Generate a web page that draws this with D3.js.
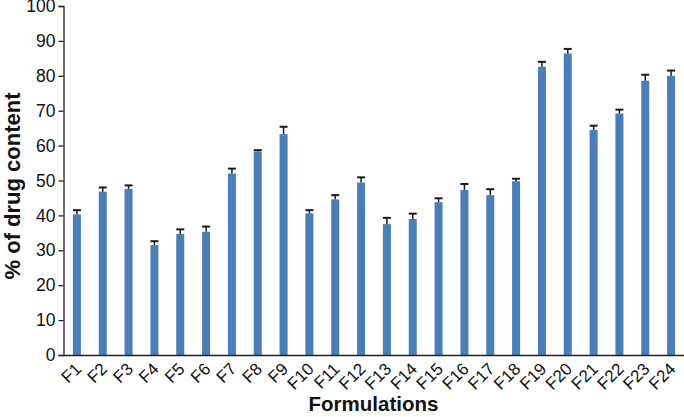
<!DOCTYPE html>
<html><head><meta charset="utf-8">
<script src="https://cdn.jsdelivr.net/npm/d3@7"></script>
<style>body{margin:0;background:#fff}svg{display:block}</style>
</head><body>
<script>
const categories = ["F1","F2","F3","F4","F5","F6","F7","F8","F9","F10","F11","F12","F13","F14","F15","F16","F17","F18","F19","F20","F21","F22","F23","F24"];
const values = [40.3,46.8,47.6,31.5,34.7,35.3,52.0,58.3,63.3,40.6,44.6,49.4,37.5,39.0,43.8,47.3,45.8,49.8,82.6,86.4,64.5,69.2,78.6,80.0];
const errors = [1.2,1.2,1.0,1.1,1.3,1.5,1.4,0.4,2.1,0.9,1.2,1.5,1.8,1.5,1.1,1.7,1.7,0.7,1.4,1.3,1.2,1.1,1.7,1.5];
const yTicks = [0,10,20,30,40,50,60,70,80,90,100];

const W = 684, H = 417;
const m = {left: 64, right: 0, top: 6, bottom: 62};
const svg = d3.select("body").append("svg").attr("width", W).attr("height", H);
const x = d3.scaleBand().domain(categories).range([m.left, W - m.right]).paddingInner(0.69).paddingOuter(0.345);
const y = d3.scaleLinear().domain([0, 100]).range([H - m.bottom, m.top]);
const font = "'Liberation Sans', Arial, sans-serif";

// bars
svg.append("g").selectAll("rect").data(categories).join("rect")
  .attr("x", d => x(d)).attr("width", x.bandwidth())
  .attr("y", (d, i) => y(values[i])).attr("height", (d, i) => y(0) - y(values[i]))
  .attr("fill", "#4a7ebb");

// error bars (plus only)
const eg = svg.append("g").attr("stroke", "#1a1a1a").attr("stroke-width", 1.5);
categories.forEach((c, i) => {
  const cx = x(c) + x.bandwidth() / 2;
  eg.append("line").attr("x1", cx).attr("x2", cx).attr("y1", y(values[i])).attr("y2", y(values[i] + errors[i]));
  eg.append("line").attr("x1", cx - 4).attr("x2", cx + 4).attr("y1", y(values[i] + errors[i])).attr("y2", y(values[i] + errors[i])).attr("stroke-width", 2);
});

// y axis
const ya = svg.append("g").attr("transform", `translate(${m.left - 0.5},0)`)
  .call(d3.axisLeft(y).tickValues(yTicks).tickSize(5).tickPadding(3));
ya.selectAll("path,line").attr("stroke", "#222").attr("stroke-width", 1.3);
ya.selectAll("text").attr("font-family", font).attr("font-size", 17.5).attr("fill", "#111");

// x axis
const xa = svg.append("g").attr("transform", `translate(0,${H - m.bottom + 0.5})`)
  .call(d3.axisBottom(x).tickSize(0).tickSizeOuter(0));
xa.select("path").attr("d", `M${m.left - 0.5},0H${W}`).attr("stroke", "#222").attr("stroke-width", 1.3);
xa.selectAll("text").attr("font-family", font).attr("font-size", 17).attr("fill", "#111")
  .attr("text-anchor", "end").attr("dy", 0).attr("y", 0)
  .attr("transform", "translate(-3,6) rotate(-45)").attr("dominant-baseline", "hanging");

// titles
svg.append("text").attr("x", (m.left + W) / 2 - 0.5).attr("y", 411).attr("text-anchor", "middle")
  .attr("font-family", font).attr("font-weight", "bold").attr("font-size", 20.5).attr("fill", "#111")
  .text("Formulations");
svg.append("text").attr("transform", "translate(20,186) rotate(-90)").attr("text-anchor", "middle")
  .attr("font-family", font).attr("font-weight", "bold").attr("font-size", 22).attr("fill", "#111")
  .text("% of drug content");
</script>
</body></html>
